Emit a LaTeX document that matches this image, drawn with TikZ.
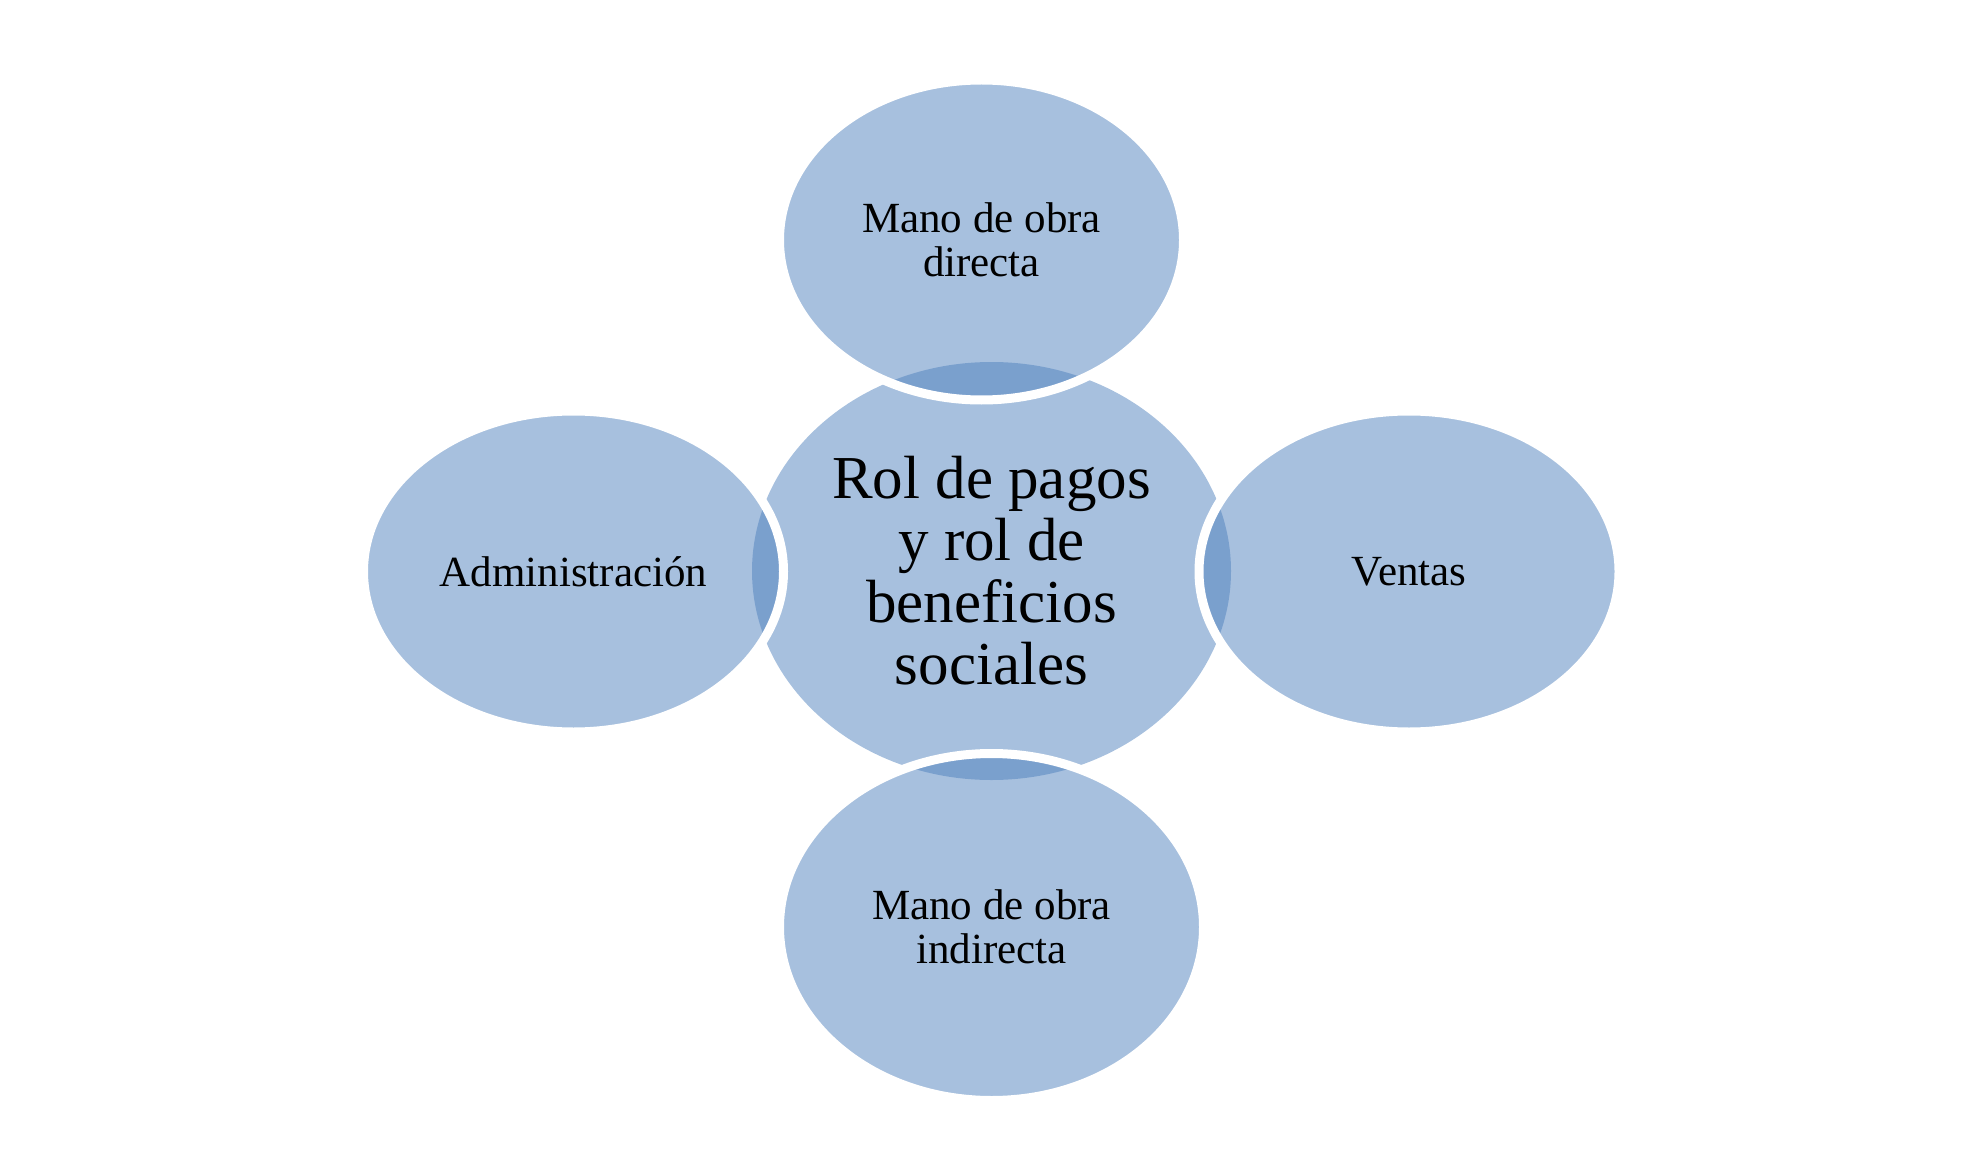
\documentclass[tikz,border=0pt]{standalone}
\usepackage{fontspec}
\setmainfont{Liberation Serif}
\usetikzlibrary{shapes.geometric}
\definecolor{accent}{HTML}{4F81BD}
\begin{document}
\begin{tikzpicture}[x=1pt,y=-1pt,
  blob/.style={ellipse, inner sep=0pt, outer sep=0pt, fill=accent, fill opacity=0.5,
    text opacity=1, align=center, text=black},
  outerblob/.style={blob, draw=white, draw opacity=1, line width=9pt,
    font=\fontsize{43}{44}\selectfont},
  ]
\useasboundingbox (0,0) rectangle (1980,1155);
\node[blob, minimum width=479pt, minimum height=418pt,
  font=\fontsize{61}{62}\selectfont] (center) at (991.5,571)
  {Rol de pagos\\y rol de\\beneficios\\sociales};
\node[outerblob, minimum width=404pt, minimum height=320pt] (top) at (981.5,240)
  {Mano de obra\\directa};
\node[outerblob, minimum width=420pt, minimum height=321pt] (left) at (573.5,571.5)
  {Administración};
\node[outerblob, minimum width=420pt, minimum height=321pt] (right) at (1409,571.5)
  {Ventas};
\node[outerblob, minimum width=424pt, minimum height=347pt] (bottom) at (991.5,927)
  {Mano de obra\\indirecta};
\end{tikzpicture}
\end{document}
